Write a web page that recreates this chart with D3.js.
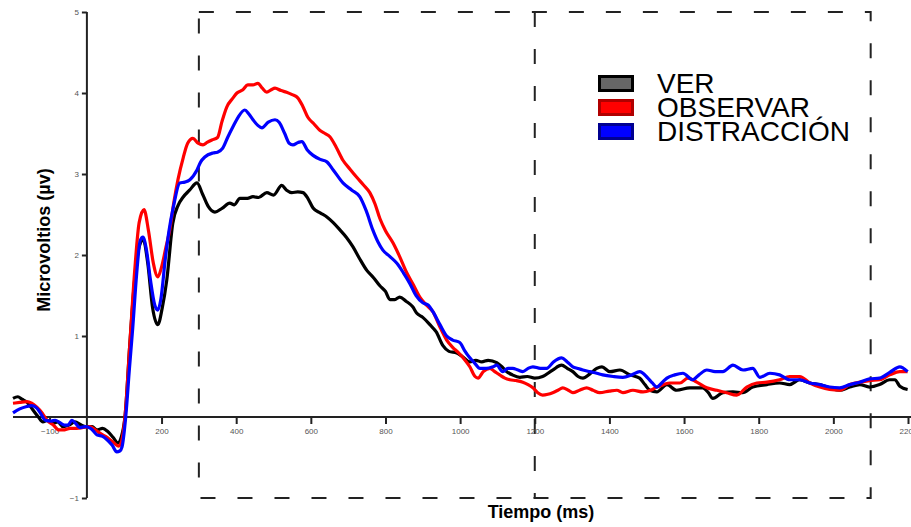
<!DOCTYPE html>
<html>
<head>
<meta charset="utf-8">
<script src="https://cdn.jsdelivr.net/npm/d3@7"></script>
<style>
  body { margin: 0; background: #fff; }
  svg { display: block; font-family: "Liberation Sans", Arial, sans-serif; }
</style>
</head>
<body>
<svg id="chart" width="911" height="527"></svg>
<script>
const W = 911, H = 527;

// tick values
const xTicks = [-100, 200, 400, 600, 800, 1000, 1200, 1400, 1600, 1800, 2000, 2200];
const yTicks = [-1, 1, 2, 3, 4, 5];
const windowEdges = [300, 1200, 2100];

const seriesNames = ["VER", "OBSERVAR", "DISTRACCIÓN"];

// [ms, µV]
const verData = [[-198,0.23],[-185,0.25],[-174,0.22],[-160,0.18],[-145,0.09],[-130,0.0],[-118,-0.06],[-105,-0.04],[-91,-0.08],[-78,-0.06],[-64,-0.12],[-48,-0.1],[-32,-0.06],[-15,-0.1],[0,-0.12],[14,-0.12],[27,-0.16],[42,-0.14],[56,-0.18],[70,-0.25],[83,-0.32],[92,-0.25],[102,0.0],[115,0.9],[128,1.7],[140,2.1],[151,2.19],[163,1.9],[176,1.35],[190,1.14],[202,1.35],[214,1.69],[230,2.39],[245,2.62],[257,2.71],[275,2.8],[295,2.89],[310,2.75],[325,2.6],[343,2.53],[363,2.58],[383,2.64],[395,2.62],[410,2.7],[430,2.7],[445,2.72],[460,2.71],[482,2.77],[500,2.74],[522,2.86],[535,2.8],[549,2.77],[565,2.78],[579,2.77],[592,2.7],[606,2.58],[625,2.52],[643,2.47],[660,2.4],[678,2.31],[695,2.22],[713,2.1],[730,1.96],[750,1.81],[768,1.72],[785,1.62],[800,1.55],[812,1.45],[825,1.45],[838,1.48],[855,1.43],[873,1.36],[884,1.28],[900,1.23],[919,1.14],[936,1.05],[954,0.88],[970,0.81],[991,0.79],[1005,0.75],[1026,0.68],[1042,0.7],[1058,0.68],[1075,0.7],[1098,0.67],[1112,0.62],[1125,0.56],[1140,0.52],[1160,0.49],[1180,0.5],[1200,0.48],[1221,0.5],[1248,0.58],[1272,0.64],[1287,0.6],[1302,0.56],[1316,0.5],[1329,0.48],[1347,0.53],[1366,0.6],[1380,0.62],[1401,0.56],[1428,0.58],[1455,0.52],[1481,0.48],[1495,0.4],[1508,0.33],[1527,0.31],[1554,0.4],[1580,0.33],[1615,0.36],[1650,0.36],[1665,0.3],[1677,0.23],[1704,0.3],[1731,0.31],[1757,0.3],[1784,0.37],[1822,0.4],[1856,0.42],[1883,0.4],[1910,0.46],[1937,0.42],[1964,0.4],[1990,0.36],[2017,0.33],[2044,0.37],[2071,0.4],[2097,0.37],[2124,0.4],[2151,0.46],[2165,0.46],[2178,0.38],[2199,0.34]];

const observarData = [[-198,0.17],[-180,0.18],[-161,0.19],[-148,0.17],[-134,0.12],[-120,0.05],[-107,-0.04],[-90,-0.1],[-75,-0.16],[-64,-0.16],[-45,-0.14],[-27,-0.14],[-10,-0.13],[8,-0.12],[20,-0.15],[35,-0.2],[50,-0.24],[62,-0.28],[75,-0.33],[85,-0.36],[93,-0.3],[102,0.0],[115,0.9],[128,1.8],[140,2.4],[153,2.56],[165,2.3],[178,1.9],[190,1.73],[200,1.85],[212,2.1],[222,2.31],[233,2.65],[244,2.93],[258,3.2],[270,3.38],[284,3.44],[298,3.38],[311,3.36],[322,3.39],[335,3.42],[350,3.45],[362,3.65],[375,3.83],[390,3.93],[402,4.0],[418,4.04],[431,4.1],[445,4.1],[458,4.12],[470,4.06],[482,4.01],[494,4.04],[504,4.06],[520,4.03],[535,4.01],[550,3.98],[565,3.94],[578,3.84],[592,3.7],[608,3.62],[624,3.54],[638,3.5],[651,3.46],[668,3.33],[686,3.17],[705,3.06],[723,2.96],[740,2.87],[758,2.77],[772,2.63],[785,2.45],[800,2.3],[820,2.15],[838,1.98],[857,1.78],[875,1.63],[892,1.48],[910,1.38],[927,1.3],[945,1.12],[964,0.95],[980,0.86],[994,0.8],[1010,0.72],[1026,0.62],[1040,0.5],[1048,0.48],[1062,0.56],[1080,0.6],[1093,0.56],[1106,0.52],[1120,0.48],[1133,0.46],[1150,0.45],[1168,0.43],[1182,0.4],[1195,0.36],[1208,0.3],[1221,0.27],[1235,0.28],[1248,0.3],[1262,0.33],[1275,0.36],[1290,0.33],[1302,0.3],[1320,0.33],[1339,0.36],[1356,0.33],[1374,0.3],[1400,0.32],[1420,0.33],[1436,0.3],[1463,0.33],[1490,0.31],[1510,0.33],[1527,0.37],[1545,0.4],[1562,0.42],[1589,0.42],[1610,0.48],[1634,0.43],[1661,0.36],[1688,0.33],[1714,0.3],[1741,0.27],[1768,0.37],[1795,0.42],[1822,0.43],[1856,0.46],[1883,0.5],[1910,0.5],[1937,0.42],[1964,0.37],[1990,0.34],[2017,0.33],[2044,0.4],[2071,0.43],[2097,0.45],[2124,0.46],[2151,0.52],[2178,0.56],[2199,0.56]];

const distraccionData = [[-198,0.05],[-180,0.1],[-161,0.13],[-148,0.14],[-134,0.11],[-122,0.03],[-112,-0.04],[-95,-0.05],[-85,-0.04],[-72,-0.07],[-60,-0.1],[-51,-0.1],[-40,-0.04],[-30,-0.08],[-19,-0.13],[-5,-0.12],[10,-0.14],[27,-0.22],[42,-0.24],[54,-0.28],[68,-0.35],[80,-0.43],[88,-0.42],[94,-0.37],[104,0.0],[114,0.6],[123,1.11],[133,1.75],[143,2.18],[150,2.22],[160,2.05],[170,1.7],[182,1.38],[190,1.32],[198,1.45],[210,1.95],[220,2.3],[232,2.6],[249,2.89],[262,2.9],[276,2.93],[295,3.05],[305,3.15],[316,3.21],[338,3.26],[350,3.27],[364,3.32],[378,3.46],[391,3.58],[405,3.7],[423,3.79],[434,3.74],[445,3.67],[458,3.6],[469,3.57],[486,3.64],[504,3.67],[515,3.64],[530,3.5],[542,3.38],[552,3.36],[566,3.39],[576,3.4],[590,3.3],[606,3.23],[625,3.18],[643,3.15],[660,3.05],[686,2.89],[710,2.8],[731,2.72],[748,2.55],[766,2.31],[780,2.16],[793,2.06],[812,1.98],[830,1.9],[848,1.78],[865,1.65],[882,1.5],[900,1.41],[915,1.38],[927,1.3],[946,1.14],[964,1.0],[980,0.95],[999,0.92],[1012,0.82],[1026,0.73],[1040,0.66],[1053,0.6],[1070,0.6],[1088,0.62],[1098,0.64],[1114,0.56],[1128,0.6],[1141,0.6],[1155,0.58],[1168,0.56],[1182,0.6],[1195,0.62],[1215,0.6],[1232,0.6],[1250,0.68],[1272,0.73],[1287,0.68],[1302,0.62],[1315,0.6],[1329,0.58],[1347,0.56],[1366,0.54],[1382,0.52],[1410,0.5],[1436,0.49],[1460,0.52],[1481,0.56],[1503,0.48],[1515,0.42],[1527,0.37],[1540,0.42],[1554,0.48],[1575,0.52],[1597,0.54],[1623,0.46],[1640,0.52],[1661,0.58],[1683,0.56],[1704,0.56],[1731,0.64],[1758,0.58],[1784,0.6],[1803,0.49],[1830,0.54],[1856,0.52],[1883,0.46],[1910,0.46],[1937,0.42],[1964,0.4],[1990,0.37],[2017,0.36],[2044,0.4],[2071,0.43],[2097,0.47],[2124,0.48],[2151,0.55],[2178,0.62],[2199,0.56]];

const svg = d3.select("#chart");

const x = d3.scaleLinear().domain([-198, 2200]).range([13, 908]);
const y = d3.scaleLinear().domain([-1, 5]).range([498, 12]);

// analysis windows (dashed)
const dash = "15,22";
const win = svg.append("g")
    .attr("fill", "none")
    .attr("stroke", "#222")
    .attr("stroke-width", 2)
    .attr("stroke-dasharray", dash);

win.append("path")
    .attr("d", `M${x(windowEdges[0])},${y(5)}H${x(windowEdges[2])}V${y(-1)}H${x(windowEdges[0])}Z`);
win.append("line")
    .attr("x1", x(windowEdges[1])).attr("x2", x(windowEdges[1]))
    .attr("y1", y(5)).attr("y2", y(-1));

// x axis
const xAxis = svg.append("g")
    .attr("transform", `translate(0,${y(0)})`)
    .call(d3.axisBottom(x).tickValues(xTicks).tickSize(7).tickPadding(4).tickFormat(d3.format("d")));
xAxis.select(".domain").attr("d", `M13,0H911`);
xAxis.selectAll("path, line").attr("stroke", "#222").attr("stroke-width", 2);
xAxis.selectAll("text")
    .attr("font-size", 8)
    .attr("fill", "#555")
    .attr("font-family", "Liberation Sans, Arial, sans-serif");

// y axis
const yAxis = svg.append("g")
    .attr("transform", `translate(${x(0)},0)`)
    .call(d3.axisLeft(y).tickValues(yTicks).tickSize(5).tickPadding(3).tickFormat(d3.format("d")));
yAxis.select(".domain").attr("d", `M0,${y(5)}V${y(-1)}`);
yAxis.selectAll("path, line").attr("stroke", "#222").attr("stroke-width", 2);
yAxis.selectAll("text")
    .attr("font-size", 8)
    .attr("fill", "#555")
    .attr("font-family", "Liberation Sans, Arial, sans-serif");

// waveforms
const line = d3.line()
    .x(d => x(d[0]))
    .y(d => y(d[1]))
    .curve(d3.curveMonotoneX);

const waves = [
    { data: verData, color: "#000000" },
    { data: observarData, color: "#ff0000" },
    { data: distraccionData, color: "#0000ff" }
];

waves.forEach(w => {
    svg.append("path")
        .datum(w.data)
        .attr("fill", "none")
        .attr("stroke", w.color)
        .attr("stroke-width", 3.2)
        .attr("stroke-linejoin", "round")
        .attr("d", line);
});

// legend
const legendColors = [
    { border: "#000000", fill: "#666666" },
    { border: "#b00000", fill: "#ff0000" },
    { border: "#000090", fill: "#0000ff" }
];
const legend = svg.append("g").attr("transform", "translate(598,75)");
seriesNames.forEach((name, i) => {
    const g = legend.append("g").attr("transform", `translate(0,${i * 24})`);
    g.append("rect")
        .attr("x", 1.5).attr("y", 1.5)
        .attr("width", 33).attr("height", 14)
        .attr("fill", legendColors[i].fill)
        .attr("stroke", legendColors[i].border)
        .attr("stroke-width", 3);
    g.append("text")
        .attr("x", 59)
        .attr("y", 18)
        .attr("font-size", 28)
        .attr("fill", "#000")
        .text(name);
});

// axis titles
svg.append("text")
    .attr("transform", `translate(50,240) rotate(-90)`)
    .attr("text-anchor", "middle")
    .attr("font-size", 18)
    .attr("font-weight", "bold")
    .text("Microvoltios (µv)");

svg.append("text")
    .attr("x", 541)
    .attr("y", 518)
    .attr("text-anchor", "middle")
    .attr("font-size", 18)
    .attr("font-weight", "bold")
    .text("Tiempo (ms)");
</script>
</body>
</html>
